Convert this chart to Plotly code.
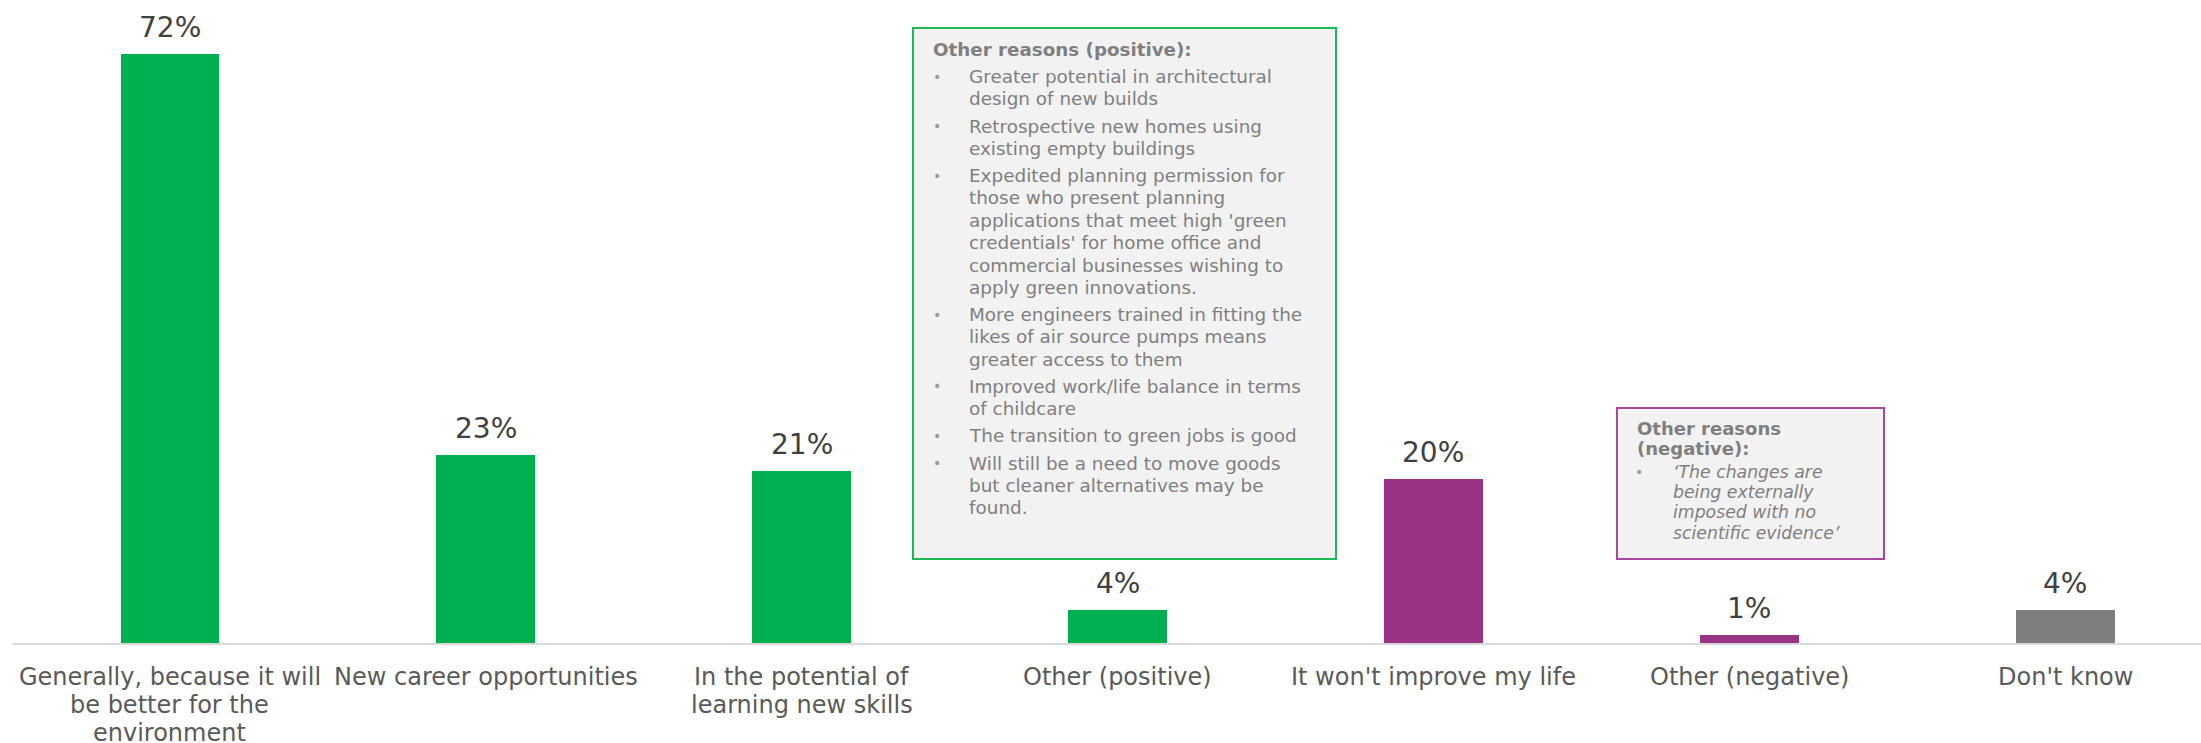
import plotly.graph_objects as go

# ---- data -------------------------------------------------------------
categories = [
    "Generally, because it will<br>be better for the<br>environment",
    "New career opportunities",
    "In the potential of<br>learning new skills",
    "Other (positive)",
    "It won't improve my life",
    "Other (negative)",
    "Don't know",
]
values = [72, 23, 21, 4, 20, 1, 4]
bar_colors = ["#00B050", "#00B050", "#00B050", "#00B050", "#993385", "#993385", "#7F7F7F"]

positive_title = "Other reasons (positive):"
positive_items = [
    ["Greater potential in architectural", "design of new builds"],
    ["Retrospective new homes using", "existing empty buildings"],
    ["Expedited planning permission for", "those who present planning",
     "applications that meet high 'green", "credentials' for home office and",
     "commercial businesses wishing to", "apply green innovations."],
    ["More engineers trained in fitting the", "likes of air source pumps means",
     "greater access to them"],
    ["Improved work/life balance in terms", "of childcare"],
    ["The transition to green jobs is good"],
    ["Will still be a need to move goods", "but cleaner alternatives may be", "found."],
]

negative_title = ["Other reasons", "(negative):"]
negative_items = [
    ["\u2018The changes are", "being externally", "imposed with no", "scientific evidence\u2019"],
]

# ---- geometry of the page ----------------------------------------------
W, H = 2201, 743
ML, MR, MT, MB = 12, 0, 5, 100
PW, PH = W - ML - MR, H - MT - MB
FONT = "DejaVu Sans"
BOX_TEXT = "#7F7F7F"


def px(x):
    return (x - ML) / PW


def py(y):
    return (H - MB - y) / PH


fig = go.Figure()
fig.add_trace(go.Bar(
    x=categories,
    y=values,
    marker=dict(color=bar_colors, line=dict(width=0)),
    width=0.313,
    hoverinfo="skip",
))

annotations = []
# value labels above bars
for c, v in zip(categories, values):
    annotations.append(dict(
        x=c, y=v, xref="x", yref="y", text=f"{v}%", showarrow=False,
        yanchor="bottom", yshift=8,
        font=dict(family=FONT, size=28, color="#404040"),
    ))

# category labels under the axis, one text per line for a tight line pitch
for c in categories:
    for i, part in enumerate(c.split("<br>")):
        annotations.append(dict(
            x=c, y=py(677 + 27.8 * i), xref="x", yref="paper", text=part,
            showarrow=False, xanchor="center", yanchor="middle",
            font=dict(family=FONT, size=24, color="#595959"),
        ))

shapes = []


def text_box(x0, y0, x1, y1, border):
    shapes.append(dict(
        type="rect", xref="paper", yref="paper",
        x0=px(x0), x1=px(x1), y0=py(y1), y1=py(y0),
        line=dict(color=border, width=2), fillcolor="#F2F2F2", layer="above",
    ))


def line(x, y, text, size, italic=False, bold=False):
    if italic:
        text = f"<i>{text}</i>"
    if bold:
        text = f"<b>{text}</b>"
    annotations.append(dict(
        x=px(x), y=py(y), xref="paper", yref="paper", text=text,
        showarrow=False, xanchor="left", yanchor="middle",
        font=dict(family=FONT, size=size, color=BOX_TEXT),
    ))


def bullet(x, y):
    annotations.append(dict(
        x=px(x), y=py(y), xref="paper", yref="paper", text="\u2022",
        showarrow=False, xanchor="center", yanchor="middle",
        font=dict(family=FONT, size=14, color="#9A9A9A"),
    ))


# positive reasons box
text_box(913, 28, 1336, 559, "#1DB954")
y = 49.3
line(931, y, positive_title, 18.3, bold=True)
y += 27.3
for item in positive_items:
    bullet(937, y)
    for ln in item:
        line(967, y, ln, 18.4)
        y += 22.35
    y += 4.8

# negative reasons box
text_box(1617, 408, 1884, 559, "#A9479F")
y = 428.3
for ln in negative_title:
    line(1635, y, ln, 18, bold=True)
    y += 20.0
y += 3.4
for item in negative_items:
    bullet(1639, y)
    for ln in item:
        line(1671, y, ln, 17.3, italic=True)
        y += 20.3

fig.update_layout(
    width=W, height=H,
    margin=dict(l=ML, r=MR, t=MT, b=MB, pad=0),
    paper_bgcolor="white", plot_bgcolor="white",
    showlegend=False,
    bargap=0.0,
    xaxis=dict(
        range=[-0.5, 6.43], showgrid=False, zeroline=False,
        showline=True, linecolor="#D9D9D9", linewidth=2,
        ticks="", showticklabels=False, automargin=False,
        fixedrange=True,
    ),
    yaxis=dict(range=[0, 78.0], visible=False, fixedrange=True, automargin=False),
    annotations=annotations,
    shapes=shapes,
)

fig.write_html("out.html")
